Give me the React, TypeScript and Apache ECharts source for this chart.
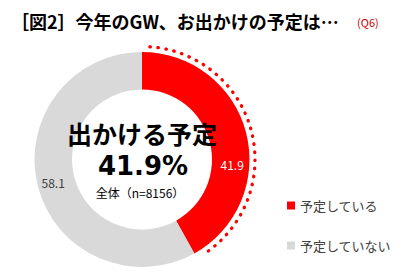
import React, { useEffect, useRef } from "react";
import * as echarts from "echarts";

const categories = ["予定している", "予定していない"];
const values = [41.9, 58.1];
const colors = ["#ff0000", "#d9d9d9"];
const titleText = "［図2］今年のGW、お出かけの予定は…";
const questionText = "(Q6)";
const centerHeadline = "出かける予定";
const centerValue = "41.9%";
const centerNote = "全体（n=8156）";

const FONT = '"Noto Sans CJK JP", "Noto Sans", sans-serif';

export default function App() {
  const ref = useRef<HTMLDivElement>(null);
  useEffect(() => {
    document.body.style.margin = "0";
    const chart = echarts.init(ref.current!, null, { renderer: "svg" });
    const cx = 142;
    const cy = 159.5;
    const total = values.reduce((a, b) => a + b, 0);
    const share = values[0] / total;
    const gap = (4 * Math.PI) / 180;
    const startA = -Math.PI / 2 + gap;
    const endA = -Math.PI / 2 + share * 2 * Math.PI - gap;
    chart.setOption({
      animation: false,
      title: {
        text: titleText,
        left: 6,
        top: 7,
        textStyle: { fontFamily: FONT, fontSize: 18, fontWeight: "bold", color: "#000" },
      },
      legend: {
        orient: "vertical",
        left: 287,
        top: 199,
        padding: 0,
        itemWidth: 8,
        itemHeight: 8,
        itemGap: 27,
        icon: "rect",
        selectedMode: false,
        data: categories,
        textStyle: { fontFamily: FONT, fontSize: 13, color: "#404040" },
      },
      series: [
        {
          type: "pie",
          center: [cx, cy],
          radius: [70, 107.5],
          startAngle: 90,
          clockwise: true,
          silent: true,
          avoidLabelOverlap: false,
          z: 1,
          label: {
            show: true,
            position: "inside",
            fontFamily: FONT,
            fontSize: 12,
            lineHeight: 14,
          },
          labelLine: { show: false },
          data: categories.map((name, i) => ({
            name,
            value: values[i],
            itemStyle: { color: colors[i] },
            label:
              i === 0
                ? { color: "#ffffff", formatter: "\n\n\n\n {c}" }
                : { color: "#404040", formatter: "{c}" },
          })),
        },
      ],
      graphic: [
        {
          type: "arc",
          z: 100,
          shape: { cx, cy, r: 113, startAngle: startA, endAngle: endA, clockwise: true },
          style: { stroke: "#ff0000", fill: null, lineWidth: 3.3, lineDash: [0.5, 7.6], lineCap: "round" },
          silent: true,
        },
        {
          type: "text",
          z: 100,
          x: 357,
          y: 22,
          style: { text: questionText, fontFamily: FONT, fontSize: 11, fill: "#cc0000", textVerticalAlign: "middle" },
        },
        {
          type: "text",
          z: 100,
          x: cx,
          y: 133,
          style: {
            text: centerHeadline,
            fontFamily: FONT,
            fontSize: 25,
            fontWeight: "bold",
            fill: "#000",
            textAlign: "center",
            textVerticalAlign: "middle",
          },
        },
        {
          type: "text",
          z: 100,
          x: cx + 1,
          y: 166,
          style: {
            text: centerValue,
            fontFamily: '"DejaVu Sans", sans-serif',
            fontSize: 26,
            fontWeight: "bold",
            fill: "#000",
            textAlign: "center",
            textVerticalAlign: "middle",
          },
        },
        {
          type: "text",
          z: 100,
          x: 140,
          y: 192,
          style: {
            text: centerNote,
            fontFamily: FONT,
            fontSize: 12,
            fill: "#000",
            textAlign: "center",
            textVerticalAlign: "middle",
          },
        },
      ],
    });
    return () => chart.dispose();
  }, []);
  return <div ref={ref} style={{ width: 409, height: 278 }} />;
}
